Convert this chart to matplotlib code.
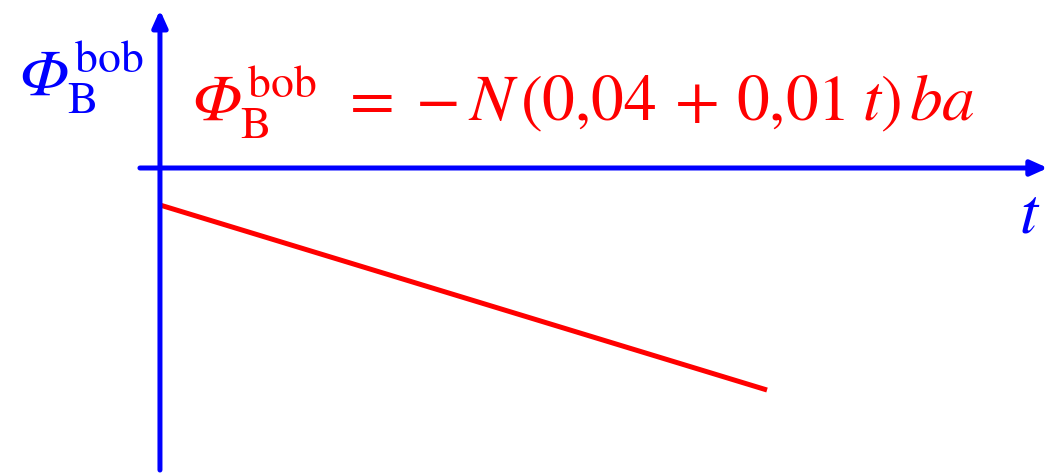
import matplotlib
matplotlib.use("Agg")
import matplotlib.pyplot as plt

plt.rcParams['mathtext.fontset'] = 'stix'
plt.rcParams['font.family'] = ['STIXGeneral', 'DejaVu Serif']

# flux line: Phi = -(0.04 + 0.01 t)
t_vals = [0, 20]
phi_vals = [-0.04, -0.24]

fig = plt.figure(figsize=(10.49, 4.73), dpi=100)
ax = fig.add_axes([0, 0, 1, 1])
ax.set_xlim(-5.27, 29.29)
ax.set_ylim(-0.3297, 0.1816)
ax.axis('off')

blue = (0, 0, 1)
red = (1, 0, 0)

# axes with arrows
ax.annotate('', xy=(29.25, 0), xytext=(-0.66, 0),
            arrowprops=dict(arrowstyle='-|>,head_length=1.0,head_width=0.45',
                            color=blue, lw=3.6, shrinkA=0, shrinkB=0))
ax.annotate('', xy=(0, 0.1708), xytext=(0, -0.3265),
            arrowprops=dict(arrowstyle='-|>,head_length=1.0,head_width=0.45',
                            color=blue, lw=3.6, shrinkA=0, shrinkB=0))

ax.plot(t_vals, phi_vals, color=red, lw=3.6, solid_capstyle='butt')

phi_lbl = r'\mathit{Ф}_{\mathrm{B}}^{\mathrm{bob}}'
ax.text(-4.7, 0.077, '$' + phi_lbl + '$', color=blue,
        fontsize=47, ha='left', va='baseline')
ax.text(28.3, -0.070, r'$t$', color=blue, fontsize=47, ha='left', va='baseline')
formula = (phi_lbl + r'\hspace{0.45}=\hspace{0.05}-N\hspace{0.15}(0{,}04'
           r'\hspace{0.2}+\hspace{0.15}0{,}01\hspace{0.25}t)\hspace{0.15}ba')
ax.text(1.0, 0.050, '$' + formula + '$',
        color=red, fontsize=47, ha='left', va='baseline')

fig.savefig('out.png', dpi=100)
